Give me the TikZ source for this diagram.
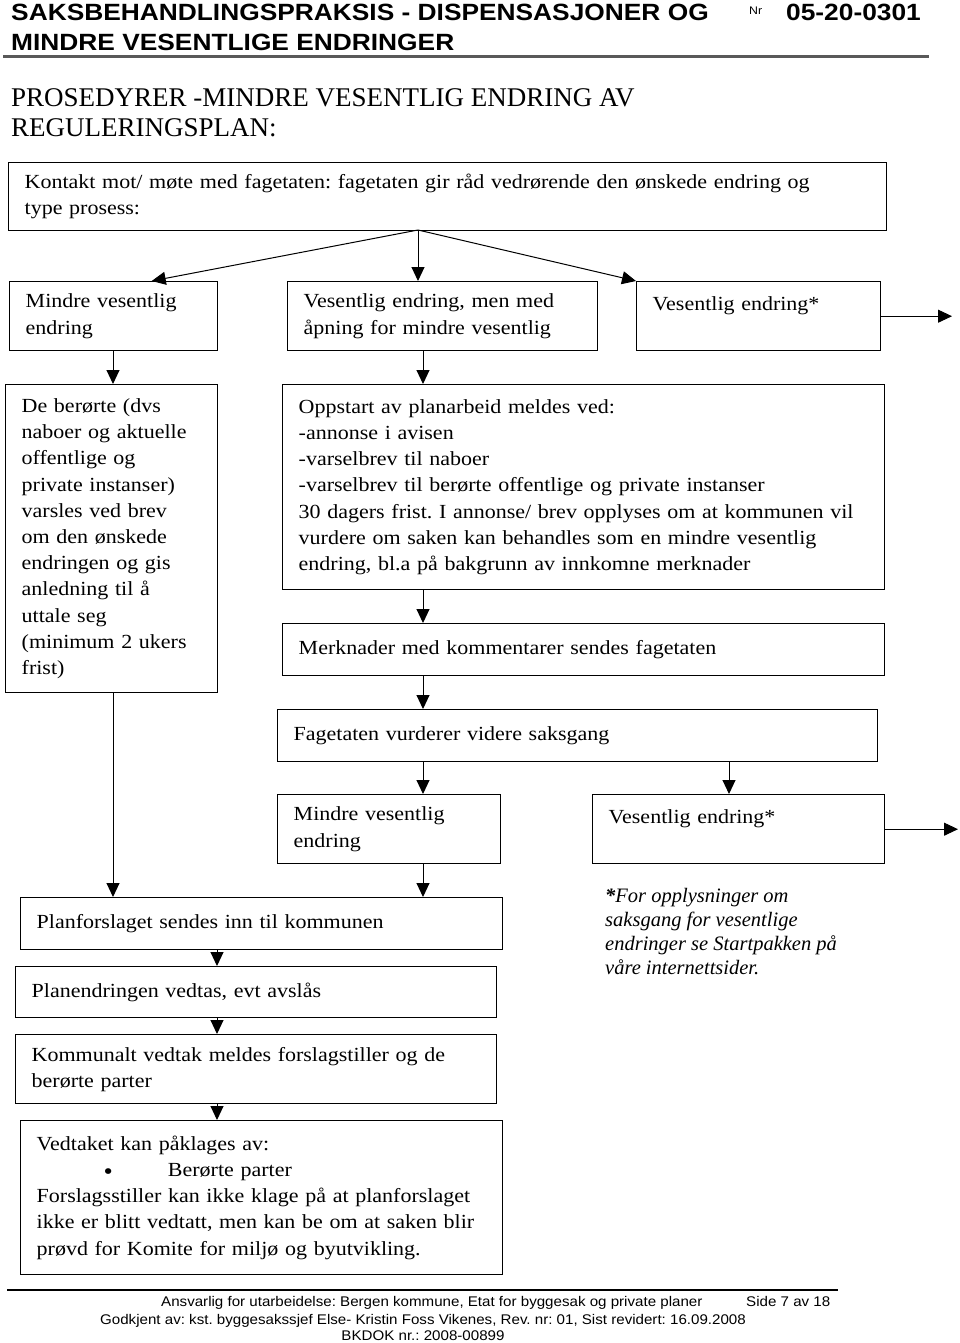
\documentclass[tikz,border=0pt]{standalone}
\usepackage{fontspec}
\setmainfont{Liberation Serif}[FakeStretch=1.1]
\newfontfamily\titlefont{Liberation Serif}
\newfontfamily\headfont{Liberation Sans}[FakeStretch=1.12]
\newfontfamily\footfont{Liberation Sans}[FakeStretch=1.08]
\usetikzlibrary{arrows.meta}
\frenchspacing

\tikzset{
  box/.style={draw, line width=1.4pt, rectangle, anchor=north west, align=left,
    inner xsep=16pt, inner ysep=0pt, font=\fontsize{20}{26.2}\selectfont},
  arr/.style={line width=1pt, -{Triangle[length=14pt,width=13pt]}},
  headtxt/.style={anchor=base west, inner sep=0pt, font=\headfont\bfseries\fontsize{23.5}{28}\selectfont},
  foot/.style={anchor=base, inner sep=0pt, font=\footfont\fontsize{14}{16}\selectfont},
}

\begin{document}
\begin{tikzpicture}[x=1pt,y=-1pt]
  \useasboundingbox (0,0) rectangle (960,1343);

  % heading
  \node[headtxt] (head1) at (11,20.5) {SAKSBEHANDLINGSPRAKSIS - DISPENSASJONER OG};
  \node[headtxt] (head2) at (11,50.5) {MINDRE VESENTLIGE ENDRINGER};
  \node[anchor=base west, inner sep=0pt, font=\headfont\fontsize{11}{12}\selectfont] (nr) at (749,15) {Nr};
  \node[headtxt] (docnr) at (786,20.5) {05-20-0301};
  \draw[line width=3pt, black!65] (3,57) -- (929,57);

  \node[anchor=base west, inner sep=0pt, font=\titlefont\fontsize{27}{30}\selectfont] (title1) at (11,107) {PROSEDYRER -MINDRE VESENTLIG ENDRING AV};
  \node[anchor=base west, inner sep=0pt, font=\titlefont\fontsize{27}{30}\selectfont] (title2) at (11,137) {REGULERINGSPLAN:};

  % boxes
  \node[box, text width=846pt, minimum height=68pt] (kontakt) at (8,162)
    {Kontakt mot/ møte med fagetaten: fagetaten gir råd vedrørende den ønskede endring og\\type prosess:};
  \node[box, text width=176pt, minimum height=69pt] (mindre1) at (9,281) {Mindre vesentlig\\endring};
  \node[box, text width=278pt, minimum height=69pt] (aapning) at (287,281)
    {Vesentlig endring, men med\\åpning for mindre vesentlig};
  \node[box, text width=212pt, minimum height=69pt] (vesentlig1) at (636,281) {Vesentlig endring*\\\mbox{}};

  \node[box, text width=180pt, minimum height=308pt] (berorte) at (5,384)
    {De berørte (dvs\\naboer og aktuelle\\offentlige og\\private instanser)\\varsles ved brev\\om den ønskede\\endringen og gis\\anledning til å\\uttale seg\\(minimum 2 ukers\\frist)};
  \node[box, text width=570pt, minimum height=205pt] (oppstart) at (282,384)
    {Oppstart av planarbeid meldes ved:\\-annonse i avisen\\-varselbrev til naboer\\-varselbrev til berørte offentlige og private instanser\\30 dagers frist. I annonse/ brev opplyses om at kommunen vil\\vurdere om saken kan behandles som en mindre vesentlig\\endring, bl.a på bakgrunn av innkomne merknader};
  \node[box, text width=570pt, minimum height=52pt] (merknader) at (282,623)
    {Merknader med kommentarer sendes fagetaten};
  \node[box, text width=568pt, minimum height=52pt] (vurderer) at (277,709)
    {Fagetaten vurderer videre saksgang};
  \node[box, text width=191pt, minimum height=69pt] (mindre2) at (277,794) {Mindre vesentlig\\endring};
  \node[box, text width=260pt, minimum height=69pt] (vesentlig2) at (592,794) {Vesentlig endring*\\\mbox{}};

  \node[box, text width=450pt, minimum height=52pt] (planforslag) at (20,897)
    {Planforslaget sendes inn til kommunen};
  \node[box, text width=449pt, minimum height=51pt] (vedtas) at (15,966)
    {Planendringen vedtas, evt avslås};
  \node[box, text width=449pt, minimum height=69pt] (kommunalt) at (15,1034)
    {Kommunalt vedtak meldes forslagstiller og de\\berørte parter};
  \node[box, text width=450pt, minimum height=154pt] (klage) at (20,1120)
    {Vedtaket kan påklages av:\\\hspace*{67pt}\raisebox{-3pt}{\fontsize{24}{26}\selectfont\textbullet}\hspace*{55pt}Berørte parter\\Forslagsstiller kan ikke klage på at planforslaget\\ikke er blitt vedtatt, men kan be om at saken blir\\prøvd for Komite for miljø og byutvikling.};

  \node[anchor=north west, align=left, inner sep=0pt, font=\titlefont\itshape\fontsize{20.5}{24}\selectfont] (note) at (605,888)
    {\textbf{*}For opplysninger om\\saksgang for vesentlige\\endringer se Startpakken på\\våre internettsider.};

  % arrows
  \coordinate (fork) at (418,230);
  \coordinate (leftcol) at (113,0);
  \coordinate (midcol) at (423,0);
  \coordinate (rightcol) at (729,0);
  \coordinate (pcol) at (217,0);
  \coordinate (out1) at (952,0);
  \coordinate (out2) at (958,0);

  \draw[arr] (fork) -- ([xshift=38pt]mindre1.north);
  \draw[arr] (fork) -- (aapning.north -| fork);
  \draw[arr] (fork) -- (vesentlig1.north west);
  \draw[arr] (vesentlig1.east) -- (vesentlig1.east -| out1);

  \draw[arr] (mindre1.south -| leftcol) -- (berorte.north -| leftcol);
  \draw[arr] (aapning.south -| midcol) -- (oppstart.north -| midcol);
  \draw[arr] (oppstart.south -| midcol) -- (merknader.north -| midcol);
  \draw[arr] (merknader.south -| midcol) -- (vurderer.north -| midcol);
  \draw[arr] (vurderer.south -| midcol) -- (mindre2.north -| midcol);
  \draw[arr] (vurderer.south -| rightcol) -- (vesentlig2.north -| rightcol);
  \draw[arr] (vesentlig2.east) -- (vesentlig2.east -| out2);

  \draw[arr] (berorte.south -| leftcol) -- (planforslag.north -| leftcol);
  \draw[arr] (mindre2.south -| midcol) -- (planforslag.north -| midcol);
  \draw[arr] (planforslag.south -| pcol) -- (vedtas.north -| pcol);
  \draw[arr] (vedtas.south -| pcol) -- (kommunalt.north -| pcol);
  \draw[arr] (kommunalt.south -| pcol) -- (klage.north -| pcol);

  % footer
  \draw[line width=1.5pt] (7,1290) -- (838,1290);
  \node[foot, anchor=base west] (ansvarlig) at (161,1306) {Ansvarlig for utarbeidelse: Bergen kommune, Etat for byggesak og private planer};
  \node[foot, anchor=base west] (side) at (746,1306) {Side 7 av 18};
  \node[foot] (godkjent) at (423,1324) {Godkjent av: kst. byggesakssjef Else- Kristin Foss Vikenes, Rev. nr: 01, Sist revidert: 16.09.2008};
  \node[foot] (bkdok) at (423,1340) {BKDOK nr.: 2008-00899};
\end{tikzpicture}
\end{document}
